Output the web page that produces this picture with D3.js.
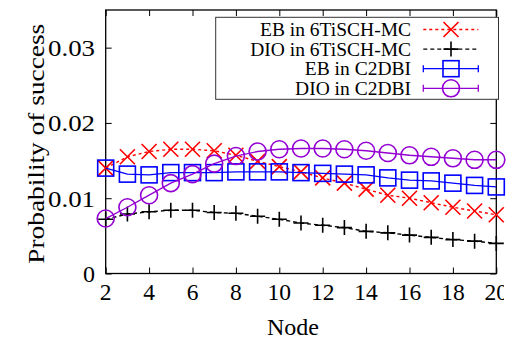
<!DOCTYPE html>
<html><head><meta charset="utf-8">
<script src="https://cdn.jsdelivr.net/npm/d3@7"></script>
<style>html,body{margin:0;padding:0;background:#fff;} svg{display:block;}</style>
</head><body>
<svg id="c" width="521" height="340"></svg>
<script>
const nodes = [2,3,4,5,6,7,8,9,10,11,12,13,14,15,16,17,18,19,20];
const ebMC  = [0.0140,0.0155,0.0162,0.0165,0.0165,0.0163,0.0157,0.0149,0.0142,0.0135,0.0127,0.0120,0.0112,0.0104,0.0100,0.0094,0.0088,0.0083,0.0078];
const dioMC = [0.0072,0.0079,0.0082,0.0084,0.0084,0.0081,0.0080,0.0076,0.0072,0.0067,0.0064,0.0061,0.0056,0.0054,0.0051,0.0048,0.0045,0.0043,0.0040];
const ebC2  = [0.0140,0.0132,0.0131,0.0134,0.0134,0.0134,0.0135,0.0135,0.0135,0.0134,0.0133,0.0132,0.0131,0.0127,0.0124,0.0123,0.0120,0.0117,0.0115];
const dioC2 = [0.0073,0.0088,0.0104,0.0120,0.0132,0.0146,0.0156,0.0162,0.0165,0.0166,0.0166,0.0165,0.0163,0.0160,0.0157,0.0155,0.0153,0.0151,0.0151];
const seriesNames = ["EB in 6TiSCH-MC","DIO in 6TiSCH-MC","EB in C2DBI","DIO in C2DBI"];
const xTicks = [2,4,6,8,10,12,14,16,18,20];
const yTicks = [0,0.01,0.02,0.03];
const yTickLabels = ["0","0.01","0.02","0.03"];
const xTitle = "Node", yTitle = "Probability of success";

const L=105.7, R=496.3, T=10, B=273.5;
const svg = d3.select("#c");
const font = "'Liberation Serif','Times New Roman',serif";
const x = d3.scaleLinear().domain([2,20]).range([L,R]);
const y = d3.scaleLinear().domain([0,0.035]).range([B,T]);

svg.append("defs").append("clipPath").attr("id","clipAll")
  .append("rect").attr("x",0).attr("y",0).attr("width",504).attr("height",340);

// axes with inward ticks
const gx = svg.append("g").attr("transform",`translate(0,${B})`)
  .call(d3.axisBottom(x).tickValues(xTicks).tickSize(-6).tickPadding(0).tickFormat(()=>""));
const gxTop = svg.append("g").attr("transform",`translate(0,${T})`)
  .call(d3.axisTop(x).tickValues(xTicks).tickSize(-6).tickFormat(()=>""));
const gy = svg.append("g").attr("transform",`translate(${L},0)`)
  .call(d3.axisLeft(y).tickValues(yTicks).tickSize(-6).tickFormat(()=>""));
const gyR = svg.append("g").attr("transform",`translate(${R},0)`)
  .call(d3.axisRight(y).tickValues(yTicks).tickSize(-6).tickFormat(()=>""));
[gx,gxTop,gy,gyR].forEach(g=>{g.select(".domain").remove(); g.selectAll("line").attr("stroke","#000").attr("stroke-width",1);});
svg.append("rect").attr("x",L).attr("y",T).attr("width",R-L).attr("height",B-T)
  .attr("fill","none").attr("stroke","#000").attr("stroke-width",1.3);

// tick labels
const tl = svg.append("g").attr("clip-path","url(#clipAll)");
tl.selectAll("text.xt").data(xTicks).join("text").attr("class","xt")
  .attr("x",d=>x(d)).attr("y",300).attr("text-anchor","middle")
  .attr("font-family",font).attr("font-size",23.5).text(d=>d);
svg.selectAll("text.yt").data(yTicks).join("text").attr("class","yt")
  .attr("x",95).attr("y",d=>y(d)+8.5).attr("text-anchor","end")
  .attr("font-family",font).attr("font-size",24)
  .each(function(d,i){ if(yTickLabels[i].length>1){ d3.select(this).attr("textLength",47).attr("lengthAdjust","spacingAndGlyphs"); } })
  .text((d,i)=>yTickLabels[i]);
svg.append("text").attr("x",293).attr("y",335).attr("text-anchor","middle")
  .attr("font-family",font).attr("font-size",24).text(xTitle);
svg.append("text").attr("transform",`translate(44,${(T+B)/2+2}) rotate(-90)`)
  .attr("text-anchor","middle").attr("font-family",font).attr("font-size",24)
  .attr("textLength",240).attr("lengthAdjust","spacingAndGlyphs").text(yTitle);

const line = d3.line().x((d,i)=>x(nodes[i])).y(d=>y(d));
const styles = [
  {data:ebMC, color:"#ff0000", dash:"3,3", marker:"x"},
  {data:dioMC, color:"#000000", dash:"4,3", marker:"plus"},
  {data:ebC2, color:"#0000ff", dash:null, marker:"square"},
  {data:dioC2, color:"#9400d3", dash:null, marker:"circle"}
];
function drawMarker(g, type, cx, cy, color){
  if(type==="x"){
    g.append("path").attr("d",`M${cx-7.5},${cy-7.5}L${cx+7.5},${cy+7.5}M${cx-7.5},${cy+7.5}L${cx+7.5},${cy-7.5}`)
      .attr("stroke",color).attr("stroke-width",1.6).attr("fill","none");
  } else if(type==="plus"){
    g.append("path").attr("d",`M${cx-7.5},${cy}L${cx+7.5},${cy}M${cx},${cy-7.5}L${cx},${cy+7.5}`)
      .attr("stroke",color).attr("stroke-width",1.6).attr("fill","none");
  } else if(type==="square"){
    g.append("rect").attr("x",cx-8).attr("y",cy-8).attr("width",16).attr("height",16)
      .attr("stroke",color).attr("stroke-width",1.6).attr("fill","none");
  } else {
    g.append("circle").attr("cx",cx).attr("cy",cy).attr("r",8.5)
      .attr("stroke",color).attr("stroke-width",1.6).attr("fill","none");
  }
}
styles.forEach(s=>{
  const g = svg.append("g");
  g.append("path").attr("d",line(s.data)).attr("fill","none").attr("stroke",s.color)
    .attr("stroke-width",1.4).attr("stroke-dasharray",s.dash);
  s.data.forEach((v,i)=>drawMarker(g, s.marker, x(nodes[i]), y(v), s.color));
});

// legend
const lg = svg.append("g");
lg.append("rect").attr("x",215.7).attr("y",17.3).attr("width",282.8).attr("height",82)
  .attr("fill","#fff").attr("stroke","#333").attr("stroke-width",1);
styles.forEach((s,i)=>{
  const cy = 29.5 + i*19.6;
  lg.append("text").attr("x",411).attr("y",cy+6.5).attr("text-anchor","end")
    .attr("font-family",font).attr("font-size",19.5).text(seriesNames[i]);
  lg.append("line").attr("x1",423.3).attr("x2",478.3).attr("y1",cy).attr("y2",cy)
    .attr("stroke",s.color).attr("stroke-width",1.3).attr("stroke-dasharray",s.dash);
  if(i>=2){
    [423.3,478.3].forEach(ex=>lg.append("line").attr("x1",ex).attr("x2",ex).attr("y1",cy-3.5).attr("y2",cy+3.5)
      .attr("stroke",s.color).attr("stroke-width",1.3));
  }
  drawMarker(lg, s.marker, 451, cy, s.color);
});
</script>
</body></html>
